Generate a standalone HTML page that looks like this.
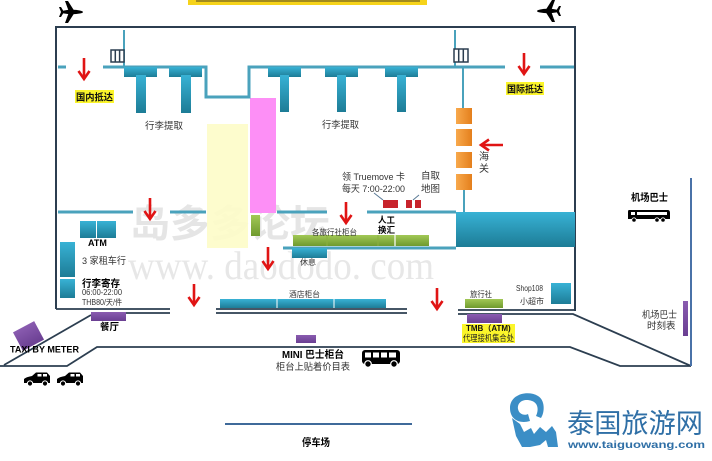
<!DOCTYPE html>
<html><head><meta charset="utf-8"><style>
html,body{margin:0;padding:0;background:#fff;}
svg{display:block;}
text{font-family:"Liberation Sans","Noto Sans CJK SC",sans-serif;}
</style></head><body>
<svg width="712" height="461" viewBox="0 0 712 461" xmlns="http://www.w3.org/2000/svg">
<defs>
<linearGradient id="tg" x1="0" y1="0" x2="0" y2="1"><stop offset="0" stop-color="#38b2d5"/><stop offset="1" stop-color="#1d7c96"/></linearGradient>
<linearGradient id="gg" x1="0" y1="0" x2="0" y2="1"><stop offset="0" stop-color="#a2c856"/><stop offset="1" stop-color="#6f9a2e"/></linearGradient>
<linearGradient id="og" x1="0" y1="0" x2="1" y2="0"><stop offset="0" stop-color="#f8a94c"/><stop offset="1" stop-color="#e47f1c"/></linearGradient>
<linearGradient id="pg" x1="0" y1="0" x2="0" y2="1"><stop offset="0" stop-color="#8a5cb0"/><stop offset="1" stop-color="#6a3f92"/></linearGradient>
</defs>

<!-- top banner -->
<rect x="188" y="0" width="239" height="5" fill="#f6d31a"/>
<rect x="196" y="0" width="224" height="2" fill="#6b5a20" opacity="0.6"/>

<!-- planes -->
<g transform="translate(72,12)" fill="#000">
<ellipse cx="0" cy="0" rx="11" ry="2.2"/>
<polygon points="3,0 -4,-11 -7,-11 -3,0 -7,11 -4,11"/>
<polygon points="-8,0 -11,-5 -13,-5 -11,0 -13,5 -11,5"/>
</g>
<g transform="translate(548,11) scale(-1,1)" fill="#000">
<ellipse cx="0" cy="0" rx="11" ry="2.2"/>
<polygon points="3,0 -4,-11 -7,-11 -3,0 -7,11 -4,11"/>
<polygon points="-8,0 -11,-5 -13,-5 -11,0 -13,5 -11,5"/>
</g>

<!-- watermark -->
<text x="130" y="237" font-size="38" font-weight="bold" fill="#d4d4d4" opacity="0.6" textLength="200" lengthAdjust="spacingAndGlyphs">岛多多论坛</text>
<text x="128" y="279" font-size="40" fill="#d8d8d8" opacity="0.6" style="font-family:'Liberation Serif',serif" textLength="306" lengthAdjust="spacingAndGlyphs">www. daododo. com</text>

<!-- yellow & pink zones -->
<rect x="207" y="124" width="41" height="124" fill="#fdfcc8" opacity="0.9"/>
<rect x="250" y="98" width="26" height="115" fill="#fd8ff6"/>
<rect x="251" y="215" width="9" height="21" fill="url(#gg)"/>

<!-- building outline -->
<polyline points="56,309 56,27 575,27 575,311" fill="none" stroke="#2c3e50" stroke-width="2"/>
<g stroke="#2c3e50" stroke-width="1.8" fill="none">
<line x1="56" y1="309" x2="170" y2="309"/>
<line x1="91" y1="313" x2="170" y2="313"/>
<line x1="216" y1="309" x2="407" y2="309"/>
<line x1="216" y1="313" x2="407" y2="313"/>
<line x1="458" y1="310" x2="575" y2="310"/>
<polyline points="458,314 573,314 691,366"/>
<line x1="91" y1="315" x2="4" y2="365"/>
<polyline points="0,366 67,366 97,347 570,347 620,366 691,366"/>
<line x1="225" y1="424" x2="412" y2="424" stroke="#3f6a9a" stroke-width="2"/>
</g>
<line x1="691" y1="178" x2="691" y2="366" stroke="#4a72a8" stroke-width="2"/>

<!-- teal walls -->
<g stroke="#4aa2bc" stroke-width="3" fill="none">
<line x1="58" y1="67" x2="66" y2="67"/>
<polyline points="103,67 206,67 206,97 249,97 249,67 505,67"/>
<line x1="540" y1="67" x2="574" y2="67"/>
<line x1="124" y1="30" x2="124" y2="67" stroke-width="2"/>
<line x1="455" y1="30" x2="455" y2="67" stroke-width="2"/>
<line x1="463" y1="67" x2="463" y2="108" stroke-width="2"/>
<line x1="464" y1="190" x2="464" y2="212" stroke-width="2"/>
<line x1="58" y1="212" x2="133" y2="212"/>
<line x1="170" y1="212" x2="206" y2="212"/>
<line x1="277" y1="212" x2="327" y2="212"/>
<line x1="367" y1="212" x2="456" y2="212"/>
<line x1="283" y1="248" x2="456" y2="248"/>
</g>

<!-- turnstiles -->
<g fill="#fff" stroke="#2c3e50" stroke-width="1.5">
<rect x="111" y="50" width="13" height="12"/>
<line x1="115.3" y1="50" x2="115.3" y2="62"/><line x1="119.6" y1="50" x2="119.6" y2="62"/>
<rect x="454" y="49" width="14" height="13"/>
<line x1="458.7" y1="49" x2="458.7" y2="62"/><line x1="463.3" y1="49" x2="463.3" y2="62"/>
</g>

<!-- baggage carousels -->
<g fill="url(#tg)">
<rect x="124" y="67" width="33" height="10"/><rect x="136" y="75" width="10" height="38"/>
<rect x="169" y="67" width="33" height="10"/><rect x="181" y="75" width="10" height="38"/>
<rect x="268" y="67" width="33" height="10"/><rect x="280" y="75" width="9" height="37"/>
<rect x="325" y="67" width="33" height="10"/><rect x="337" y="75" width="9" height="37"/>
<rect x="385" y="67" width="33" height="10"/><rect x="397" y="75" width="9" height="37"/>
</g>

<!-- big teal block -->
<rect x="456" y="212" width="119" height="35" fill="url(#tg)"/>

<!-- orange customs -->
<g fill="url(#og)">
<rect x="456" y="108" width="16" height="16"/>
<rect x="456" y="129" width="16" height="17"/>
<rect x="456" y="152" width="16" height="16"/>
<rect x="456" y="174" width="16" height="16"/>
</g>

<!-- red counters -->
<g fill="#c8232b">
<rect x="383" y="200" width="15" height="8"/>
<rect x="406" y="200" width="6" height="8"/>
<rect x="415" y="200" width="6" height="8"/>
</g>
<g stroke="#5a7a96" stroke-width="1"><line x1="374" y1="193" x2="383" y2="200"/><line x1="419" y1="195" x2="413" y2="200"/></g>

<!-- green counters -->
<rect x="293" y="235" width="136" height="11" fill="url(#gg)"/>
<line x1="327" y1="235" x2="327" y2="246" stroke="#8bb040" stroke-width="1"/>
<line x1="378" y1="235" x2="378" y2="246" stroke="#8bb040" stroke-width="1"/>
<line x1="395" y1="235" x2="395" y2="246" stroke="#fff" stroke-width="1.2"/>
<rect x="292" y="248" width="35" height="10" fill="url(#tg)"/>

<!-- ATM & left -->
<g fill="url(#tg)">
<rect x="80" y="221" width="16" height="17"/>
<rect x="97" y="221" width="19" height="17"/>
<rect x="60" y="242" width="15" height="35"/>
<rect x="60" y="279" width="15" height="19"/>
<rect x="220" y="299" width="166" height="9"/>
<rect x="551" y="283" width="20" height="21"/>
</g>
<line x1="277" y1="299" x2="277" y2="308" stroke="#fff"/>
<line x1="334" y1="299" x2="334" y2="308" stroke="#fff"/>

<!-- green travel agency + purple -->
<rect x="465" y="299" width="38" height="9" fill="url(#gg)"/>
<g fill="url(#pg)">
<rect x="91" y="312" width="35" height="9"/>
<rect x="296" y="335" width="20" height="8"/>
<rect x="467" y="314" width="35" height="9"/>
<rect x="683" y="301" width="5" height="35"/>
<rect x="-12" y="-10.5" width="24" height="21" transform="translate(28.5,336) rotate(-28)"/>
</g>

<!-- red arrows -->
<g stroke="#e01414" stroke-width="2.6" fill="none" stroke-linejoin="miter">
<line x1="84" y1="58" x2="84" y2="78"/><polyline points="78.5,71 84,79 89.5,71"/>
<line x1="524" y1="53" x2="524" y2="73"/><polyline points="518.5,66 524,74 529.5,66"/>
<line x1="150" y1="198" x2="150" y2="218"/><polyline points="144.5,211 150,219 155.5,211"/>
<line x1="346" y1="202" x2="346" y2="222"/><polyline points="340.5,215 346,223 351.5,215"/>
<line x1="268" y1="247" x2="268" y2="268"/><polyline points="262.5,261 268,269 273.5,261"/>
<line x1="194" y1="284" x2="194" y2="304"/><polyline points="188.5,297 194,305 199.5,297"/>
<line x1="437" y1="288" x2="437" y2="308"/><polyline points="431.5,301 437,309 442.5,301"/>
<line x1="503" y1="145" x2="482" y2="145"/><polyline points="489,139.5 481,145 489,150.5"/>
</g>

<!-- yellow highlighted labels -->
<rect x="75" y="90" width="39" height="13" fill="#fbf52a"/>
<text x="76" y="100.5" font-size="9.5" font-weight="bold" fill="#111" textLength="37" lengthAdjust="spacingAndGlyphs">国内抵达</text>
<rect x="506" y="82" width="38" height="13" fill="#fbf52a"/>
<text x="507" y="92.5" font-size="9.5" font-weight="bold" fill="#111" textLength="36" lengthAdjust="spacingAndGlyphs">国际抵达</text>
<rect x="462" y="324" width="53" height="19" fill="#fbf52a"/>
<text x="466" y="331" font-size="8" font-weight="bold" fill="#111">TMB（ATM)</text>
<text x="463" y="341" font-size="8.5" fill="#222" textLength="51" lengthAdjust="spacingAndGlyphs">代理接机集合处</text>

<!-- labels -->
<g fill="#333">
<text x="145" y="129" font-size="9.5" textLength="38" lengthAdjust="spacingAndGlyphs">行李提取</text>
<text x="322" y="128" font-size="9.5" textLength="37" lengthAdjust="spacingAndGlyphs">行李提取</text>
<text x="479" y="160" font-size="10">海</text>
<text x="479" y="172" font-size="10">关</text>
<text x="342" y="180" font-size="9.5" textLength="63" lengthAdjust="spacingAndGlyphs">领 Truemove 卡</text>
<text x="342" y="192" font-size="9.5" textLength="63" lengthAdjust="spacingAndGlyphs">每天 7:00-22:00</text>
<text x="421" y="179" font-size="9.5">自取</text>
<text x="421" y="192" font-size="9.5">地图</text>
<text x="312" y="235" font-size="8" textLength="45" lengthAdjust="spacingAndGlyphs">各旅行社柜台</text>
<text x="300" y="265" font-size="8">休息</text>
<text x="289" y="297" font-size="8" textLength="31" lengthAdjust="spacingAndGlyphs">酒店柜台</text>
<text x="82" y="264" font-size="9.5" textLength="44" lengthAdjust="spacingAndGlyphs">3 家租车行</text>
<text x="82" y="295" font-size="8" textLength="40" lengthAdjust="spacingAndGlyphs">06:00-22:00</text>
<text x="82" y="305" font-size="8" textLength="40" lengthAdjust="spacingAndGlyphs">THB80/天/件</text>
<text x="276" y="370" font-size="9.5" textLength="74" lengthAdjust="spacingAndGlyphs">柜台上贴着价目表</text>
<text x="470" y="297" font-size="8" textLength="22" lengthAdjust="spacingAndGlyphs">旅行社</text>
<text x="516" y="291" font-size="8" textLength="27" lengthAdjust="spacingAndGlyphs">Shop108</text>
<text x="520" y="304" font-size="8">小超市</text>
<text x="642" y="318" font-size="9.5" textLength="35" lengthAdjust="spacingAndGlyphs">机场巴士</text>
<text x="647" y="329" font-size="9.5">时刻表</text>
</g>
<g fill="#000" font-weight="bold">
<text x="378" y="223" font-size="8.5">人工</text>
<text x="378" y="233" font-size="8.5">换汇</text>
<text x="88" y="246" font-size="9">ATM</text>
<text x="82" y="287" font-size="10" textLength="38" lengthAdjust="spacingAndGlyphs">行李寄存</text>
<text x="100" y="330" font-size="9.5">餐厅</text>
<text x="10" y="352.5" font-size="9.5" textLength="69" lengthAdjust="spacingAndGlyphs">TAXI BY METER</text>
<text x="282" y="358" font-size="10" textLength="62" lengthAdjust="spacingAndGlyphs">MINI 巴士柜台</text>
<text x="302" y="446" font-size="10" textLength="28" lengthAdjust="spacingAndGlyphs">停车场</text>
<text x="631" y="201" font-size="10" textLength="37" lengthAdjust="spacingAndGlyphs">机场巴士</text>
</g>

<!-- cars -->
<g fill="#000">
<path d="M24,383 L24,379 Q26,377 32,376 L36,372.5 L47,372.5 L50,376 L50,383 Z"/>
<path d="M57,383 L57,379 Q59,377 65,376 L69,372.5 L80,372.5 L83,376 L83,383 Z"/>
</g>
<g fill="#fff">
<rect x="37.5" y="374" width="4" height="2.5"/><rect x="43" y="374" width="4" height="2.5"/>
<rect x="70.5" y="374" width="4" height="2.5"/><rect x="76" y="374" width="4" height="2.5"/>
</g>
<g fill="#000" stroke="#fff" stroke-width="1">
<circle cx="30" cy="383.5" r="2.6"/><circle cx="45" cy="383.5" r="2.6"/>
<circle cx="63" cy="383.5" r="2.6"/><circle cx="78" cy="383.5" r="2.6"/>
</g>

<!-- bottom bus -->
<rect x="362" y="350" width="38" height="14" rx="3" fill="#000"/>
<g fill="#fff">
<rect x="365" y="352.5" width="6" height="5"/><rect x="373" y="352.5" width="6" height="5"/>
<rect x="381" y="352.5" width="6" height="5"/><rect x="389" y="352.5" width="7" height="5"/>
</g>
<g fill="#000" stroke="#fff" stroke-width="1.2"><circle cx="368" cy="364" r="3.3"/><circle cx="394" cy="364" r="3.3"/></g>

<!-- airport bus -->
<path d="M629,210 L668,210 Q670,210 670,213 L670,219 L628,219 L628,212 Q628,210 629,210 Z" fill="#000"/>
<g fill="#fff">
<rect x="631" y="212" width="4" height="3"/><rect x="637" y="212" width="30" height="3"/>
</g>
<g fill="#000" stroke="#fff" stroke-width="0.8"><circle cx="634" cy="220" r="2.2"/><circle cx="657" cy="220" r="2.2"/><circle cx="663" cy="220" r="2.2"/></g>

<!-- logo -->
<g fill="#3b8ec6">
<path d="M510,408 C510,394 528,390 538,396 C545,400 545,412 541,418 L536,416 C539,410 538,403 532,401 C524,398 517,402 518,409 C519,414 524,416 528,414 L530,421 C520,424 510,420 510,408 Z"/>
<path d="M512,418 L520,424 L524,432 L531,428 L534,434 L540,427 L546,432 L552,426 L556,432 L558,447 L548,447 L546,440 L540,445 L530,447 L522,447 L516,436 Z"/>
</g>
<text x="567" y="433" font-size="27" fill="#2f6fa6" textLength="136" lengthAdjust="spacingAndGlyphs">泰国旅游网</text>
<text x="568" y="448" font-size="10" font-weight="bold" fill="#2f6fa6" textLength="137" lengthAdjust="spacingAndGlyphs">www.taiguowang.com</text>
</svg>
</body></html>
